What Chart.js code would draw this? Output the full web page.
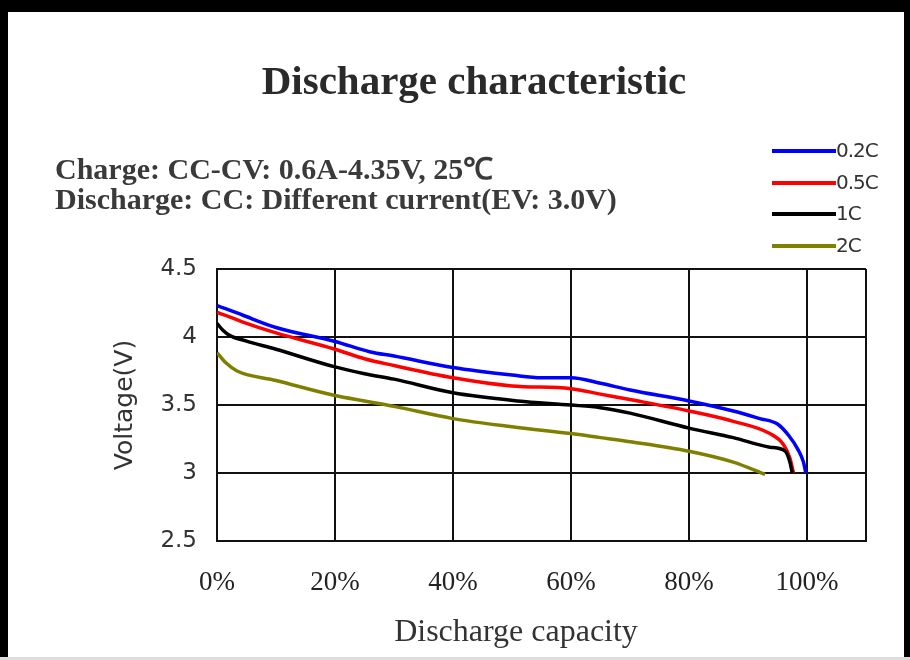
<!DOCTYPE html>
<html>
<head>
<meta charset="utf-8">
<script src="https://cdn.jsdelivr.net/npm/chart.js@4.4.1/dist/chart.umd.min.js"></script>
<style>
  html, body { margin: 0; padding: 0; background: #fff; }
  #wrap { position: relative; width: 910px; height: 660px; overflow: hidden; background: #fff; }
  #chart { position: absolute; left: 0; top: 0; }
  .bar { position: absolute; background: #000; }
  #title { position: absolute; left: 0; width: 948px; top: 56px; text-align: center;
    font-family: "Liberation Serif", serif; font-weight: bold; font-size: 41px; color: #2a2a2a; white-space: nowrap; }
  .sub { position: absolute; left: 55px; font-family: "Liberation Serif", serif; font-weight: bold;
    font-size: 30px; color: #3a3a3a; white-space: nowrap; }
  #xtitle { position: absolute; left: 316px; width: 400px; top: 612px; text-align: center;
    font-family: "Liberation Serif", serif; font-size: 32px; color: #333; white-space: nowrap; }
  #legend { position: absolute; left: 772px; top: 138px; }
  .row { position: relative; height: 31.5px; }
  .row .ln { position: absolute; left: 0; top: 11px; width: 64px; height: 4px; }
  .row .tx { position: absolute; left: 64px; top: 0; font-family: "DejaVu Sans", sans-serif;
    font-size: 20px; color: #333; letter-spacing: -1px; }
</style>
</head>
<body>
<div id="wrap">
  <canvas id="chart" width="910" height="660"></canvas>
  <div class="bar" style="left:0;top:0;width:910px;height:12px"></div>
  <div class="bar" style="left:0;top:0;width:8px;height:660px"></div>
  <div class="bar" style="left:904px;top:0;width:6px;height:660px"></div>
  <div class="bar" style="left:0;top:657px;width:910px;height:3px;background:#ddd"></div>
  <div id="title">Discharge characteristic</div>
  <div class="sub" style="top:147px">Charge: CC-CV: 0.6A-4.35V, 25℃</div>
  <div class="sub" style="top:182px">Discharge: CC: Different current(EV: 3.0V)</div>
  <div id="xtitle">Discharge capacity</div>
  <div id="legend"></div>
</div>
<script>
// discharge capacity (%) and voltage (V) for each current
const labels = ["0.2C", "0.5C", "1C", "2C"];
const colors = ["#0000ff", "#ff0000", "#000000", "#808000"];

const cap02 = [0, 2, 4.4, 10, 20, 26, 30, 40, 50, 55, 60, 65, 70, 80, 87.5, 92, 95, 97, 98.5, 99.4, 99.8];
const volt02 = [4.23, 4.2, 4.16, 4.07, 3.967, 3.89, 3.86, 3.775, 3.72, 3.70, 3.70, 3.66, 3.61, 3.53, 3.456, 3.40, 3.36, 3.27, 3.17, 3.08, 3.0];

const cap05 = [0, 2, 4.4, 10, 20, 25, 30, 40, 50, 60, 65, 70, 80, 87.5, 93.7, 96, 97.1, 97.7];
const volt05 = [4.18, 4.15, 4.11, 4.03, 3.91, 3.84, 3.79, 3.70, 3.64, 3.62, 3.58, 3.54, 3.456, 3.38, 3.29, 3.21, 3.11, 3.0];

const cap1 = [0, 1, 2.2, 5, 10, 20, 25, 30, 40, 51, 60, 65, 70, 80, 87.5, 93.7, 96.3, 97.1, 97.5];
const volt1 = [4.1, 4.05, 4.01, 3.97, 3.91, 3.78, 3.73, 3.69, 3.59, 3.53, 3.50, 3.48, 3.44, 3.33, 3.26, 3.19, 3.16, 3.08, 3.0];

const cap2 = [0, 1.5, 3.4, 10, 20, 25, 30, 40, 50, 60, 65, 70, 80, 87.5, 92.9];
const volt2 = [3.885, 3.81, 3.75, 3.68, 3.57, 3.53, 3.49, 3.40, 3.34, 3.29, 3.26, 3.23, 3.16, 3.08, 2.99];

const xTicks = [0, 20, 40, 60, 80, 100, 110];
const yTicks = [2.5, 3, 3.5, 4, 4.5];

const caps = [cap02, cap05, cap1, cap2];
const volts = [volt02, volt05, volt1, volt2];

const datasets = labels.map((l, i) => ({
  label: l,
  data: caps[i].map((c, j) => ({ x: c, y: volts[i][j] })),
  borderColor: colors[i],
  backgroundColor: colors[i],
  borderWidth: 3.5,
  pointRadius: 0,
  cubicInterpolationMode: "monotone",
  order: 4 - i
}));

var gridColor = "#111";

var myChart = new Chart(document.getElementById("chart").getContext("2d"), {
  type: "line",
  data: { datasets: datasets },
  options: {
    responsive: false,
    animation: false,
    layout: { padding: { top: 269, right: 44, left: 0, bottom: 0 } },
    plugins: { legend: { display: false }, tooltip: { enabled: false } },
    scales: {
      x: {
        type: "linear",
        min: 0,
        max: 110,
        afterBuildTicks: (s) => { s.ticks = xTicks.map((v) => ({ value: v })); },
        afterFit: (s) => { s.height = 119; },
        grid: { color: gridColor, lineWidth: 2, drawTicks: false },
        border: { color: gridColor, width: 2 },
        ticks: {
          padding: 26,
          color: "#222",
          font: { family: "Liberation Serif", size: 27 },
          callback: (v) => (v <= 100 ? v + "%" : "")
        }
      },
      y: {
        min: 2.5,
        max: 4.5,
        afterBuildTicks: (s) => { s.ticks = yTicks.map((v) => ({ value: v })); },
        afterFit: (s) => { s.width = 217; },
        grid: { color: gridColor, lineWidth: 2, drawTicks: false },
        border: { color: gridColor, width: 2 },
        ticks: {
          padding: 20,
          color: "#333",
          font: { family: "DejaVu Sans", size: 23 },
          callback: (v) => String(v)
        },
        title: {
          display: true,
          text: "Voltage(V)",
          color: "#333",
          font: { family: "DejaVu Sans", size: 25 },
          padding: { top: 110, bottom: 0 }
        }
      }
    }
  }
});

// legend: line then label
var legend = document.getElementById("legend");
labels.forEach((l, i) => {
  var row = document.createElement("div");
  row.className = "row";
  row.innerHTML = '<div class="ln" style="background:' + colors[i] + '"></div><div class="tx">' + l + "</div>";
  legend.appendChild(row);
});
</script>
</body>
</html>
